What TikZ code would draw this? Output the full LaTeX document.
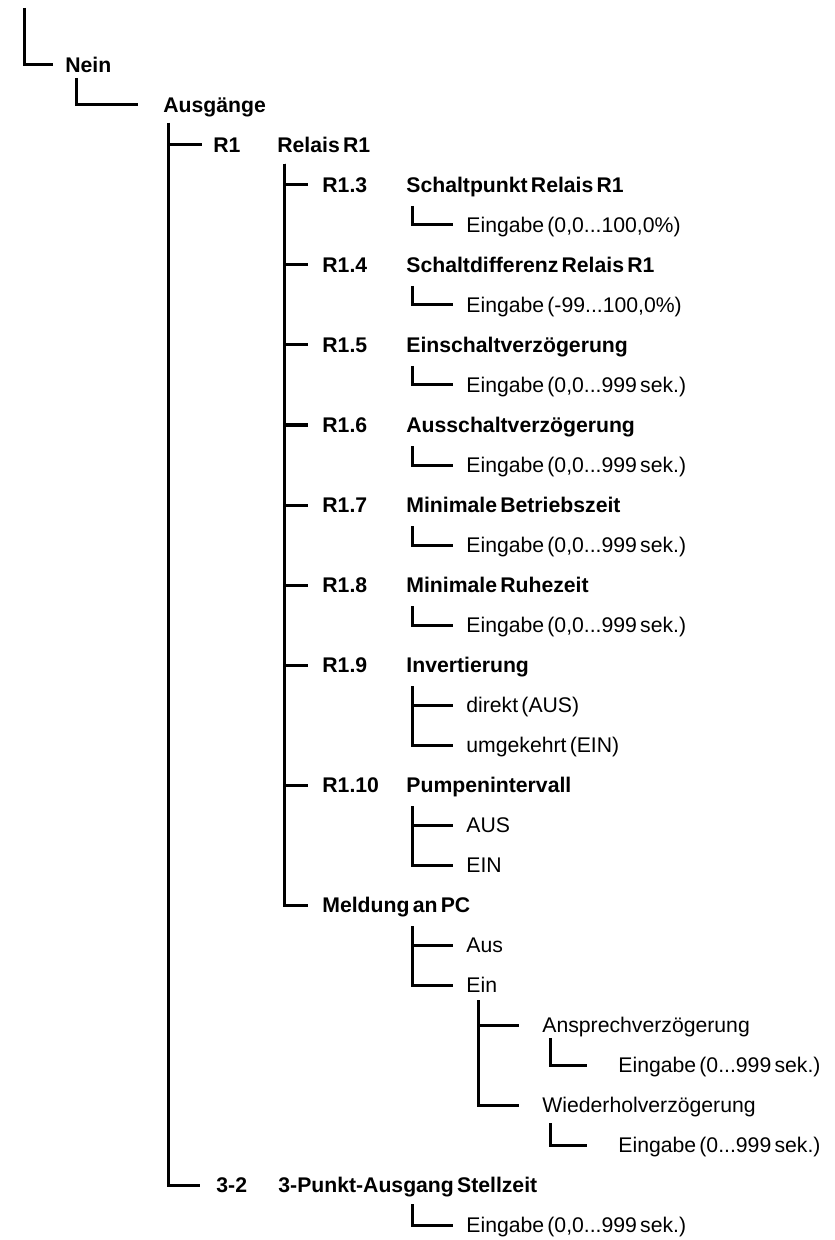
\documentclass[tikz,border=0pt]{standalone}
\usepackage{fontspec}
\setmainfont{Liberation Sans}[WordSpace=0.55]
\tikzset{
  linea/.style={line width=1.5pt},
  voce/.style={anchor=west, inner sep=0pt, text height=7.6pt, text depth=0pt, font=\fontsize{10.6}{12}\selectfont\bfseries},
  valore/.style={anchor=west, inner sep=0pt, text height=7.6pt, text depth=0pt, font=\fontsize{10.6}{12}\selectfont}
}
\begin{document}
\begin{tikzpicture}[x=0.5pt,y=-0.5pt]
        \useasboundingbox (0,0) rectangle (834,1240);
        % voci principali
        \node[voce] (nein) at (65,65) {Nein};
        \node[voce] (ausg) at (163,105) {Ausgänge};
        \node[voce] (r1) at (213,145) {R1};\node[voce] (r1t) at (277,145) {Relais R1};
        \node[voce] (p32) at (216,1185) {3-2};\node[voce] (p32t) at (278,1185) {3-Punkt-Ausgang Stellzeit};
        % parametri relais
        \node[voce] (r13) at (322,185) {R1.3};\node[voce] (r13t) at (406,185) {Schaltpunkt Relais R1};
        \node[voce] (r14) at (322,265) {R1.4};\node[voce] (r14t) at (406,265) {Schaltdifferenz Relais R1};
        \node[voce] (r15) at (322,345) {R1.5};\node[voce] (r15t) at (406,345) {Einschaltverzögerung};
        \node[voce] (r16) at (322,425) {R1.6};\node[voce] (r16t) at (406,425) {Ausschaltverzögerung};
        \node[voce] (r17) at (322,505) {R1.7};\node[voce] (r17t) at (406,505) {Minimale Betriebszeit};
        \node[voce] (r18) at (322,585) {R1.8};\node[voce] (r18t) at (406,585) {Minimale Ruhezeit};
        \node[voce] (r19) at (322,665) {R1.9};\node[voce] (r19t) at (406,665) {Invertierung};
        \node[voce] (r110) at (322,785) {R1.10};\node[voce] (r110t) at (406,785) {Pumpenintervall};
        \node[voce] (pc) at (322,905) {Meldung an PC};
        % valori
        \node[valore] (e13) at (466,225) {Eingabe (0,0...100,0\%)};
        \node[valore] (e14) at (466,305) {Eingabe (-99...100,0\%)};
        \node[valore] (e15) at (466,385) {Eingabe (0,0...999 sek.)};
        \node[valore] (e16) at (466,465) {Eingabe (0,0...999 sek.)};
        \node[valore] (e17) at (466,545) {Eingabe (0,0...999 sek.)};
        \node[valore] (e18) at (466,625) {Eingabe (0,0...999 sek.)};
        \node[valore] (dir) at (466,705) {direkt (AUS)};\node[valore] (umg) at (466,745) {umgekehrt (EIN)};
        \node[valore] (paus) at (466,825) {AUS};\node[valore] (pein) at (466,865) {EIN};
        \node[valore] (aus) at (466,945) {Aus};\node[valore] (ein) at (466,985) {Ein};
        \node[valore] (ans) at (542,1025) {Ansprechverzögerung};
        \node[valore] (eans) at (618,1065) {Eingabe (0...999 sek.)};
        \node[valore] (wie) at (542,1105) {Wiederholverzögerung};
        \node[valore] (ewie) at (618,1145) {Eingabe (0...999 sek.)};
        \node[valore] (e32) at (466,1225) {Eingabe (0,0...999 sek.)};
        % punti di partenza delle linee
        \coordinate (v0) at (24,8);\coordinate (v1) at (76,78);
        \coordinate (v2) at (168,123);\coordinate (v3) at (284,164);
        \coordinate (v13) at (412,206);\coordinate (v14) at (412,286);\coordinate (v15) at (412,366);
        \coordinate (v16) at (412,446);\coordinate (v17) at (412,526);\coordinate (v18) at (412,606);
        \coordinate (v19) at (412,686);\coordinate (v110) at (412,806);\coordinate (vpc) at (412,926);
        \coordinate (vein) at (478,1000);\coordinate (vans) at (550,1038);\coordinate (vwie) at (550,1123);
        \coordinate (v32) at (412,1204);
        % linee
        \draw[linea] (v0) |- ([xshift=-6pt]nein.west);
        \draw[linea] (v1) |- ([xshift=-12.5pt]ausg.west);
        \draw[linea] (v2) |- ([xshift=-5.5pt]r1.west);\draw[linea] (v2) |- ([xshift=-8pt]p32.west);
        \draw[linea] (v3) |- ([xshift=-7pt]r13.west);\draw[linea] (v3) |- ([xshift=-7pt]r14.west);
        \draw[linea] (v3) |- ([xshift=-7pt]r15.west);\draw[linea] (v3) |- ([xshift=-7pt]r16.west);
        \draw[linea] (v3) |- ([xshift=-7pt]r17.west);\draw[linea] (v3) |- ([xshift=-7pt]r18.west);
        \draw[linea] (v3) |- ([xshift=-7pt]r19.west);\draw[linea] (v3) |- ([xshift=-7pt]r110.west);
        \draw[linea] (v3) |- ([xshift=-7pt]pc.west);
        
        \draw[linea] (v13) |- ([xshift=-6.5pt]e13.west);\draw[linea] (v14) |- ([xshift=-6.5pt]e14.west);
        \draw[linea] (v15) |- ([xshift=-6.5pt]e15.west);\draw[linea] (v16) |- ([xshift=-6.5pt]e16.west);
        \draw[linea] (v17) |- ([xshift=-6.5pt]e17.west);\draw[linea] (v18) |- ([xshift=-6.5pt]e18.west);
        \draw[linea] (v19) |- ([xshift=-6.5pt]dir.west);\draw[linea] (v19) |- ([xshift=-6.5pt]umg.west);
        \draw[linea] (v110) |- ([xshift=-6.5pt]paus.west);\draw[linea] (v110) |- ([xshift=-6.5pt]pein.west);
        \draw[linea] (vpc) |- ([xshift=-6.5pt]aus.west);\draw[linea] (vpc) |- ([xshift=-6.5pt]ein.west);
        \draw[linea] (vein) |- ([xshift=-11.5pt]ans.west);\draw[linea] (vein) |- ([xshift=-11.5pt]wie.west);
        \draw[linea] (vans) |- ([xshift=-15.5pt]eans.west);\draw[linea] (vwie) |- ([xshift=-15.5pt]ewie.west);
        \draw[linea] (v32) |- ([xshift=-6.5pt]e32.west);
\end{tikzpicture}
\end{document}
